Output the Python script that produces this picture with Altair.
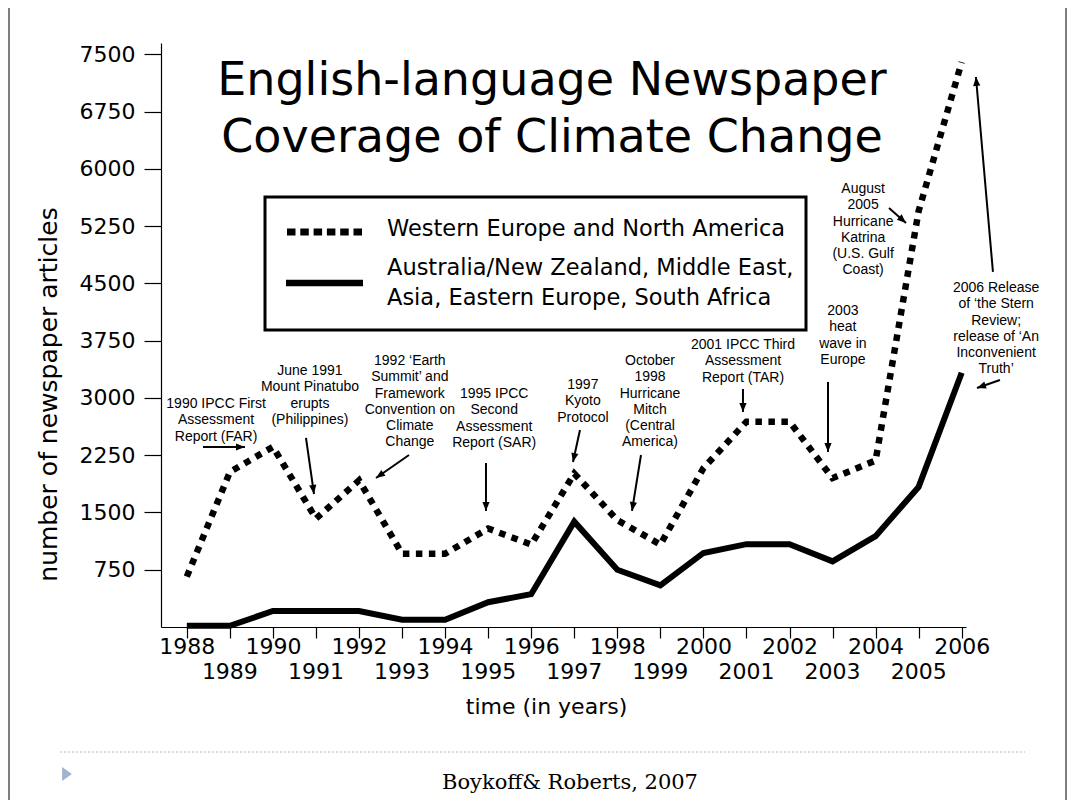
import math
import altair as alt
import pandas as pd

# ---------------- data ----------------
years = list(range(1988, 2007))
western = [660, 2030, 2360, 1420, 1920, 960, 960, 1290, 1080, 2010,
           1400, 1080, 2080, 2690, 2690, 1950, 2180, 5450, 7400]
other = [15, 15, 210, 210, 210, 96, 96, 325, 430, 1380,
         750, 545, 970, 1085, 1085, 860, 1190, 1835, 3330]
y_ticks = [750, 1500, 2250, 3000, 3750, 4500, 5250, 6000, 6750, 7500]
odd_years = [y for y in years if y % 2 == 1]
series_labels = ["Western Europe and North America",
                 "Australia/New Zealand, Middle East,\nAsia, Eastern Europe, South Africa"]

ann_text = [
    "1990 IPCC First\nAssessment\nReport (FAR)",
    "June 1991\nMount Pinatubo\nerupts\n(Philippines)",
    "1992 \u2018Earth\nSummit\u2019 and\nFramework\nConvention on\nClimate\nChange",
    "1995 IPCC\nSecond\nAssessment\nReport (SAR)",
    "1997\nKyoto\nProtocol",
    "October\n1998\nHurricane\nMitch\n(Central\nAmerica)",
    "2001 IPCC Third\nAssessment\nReport (TAR)",
    "2003\nheat\nwave in\nEurope",
    "August\n2005\nHurricane\nKatrina\n(U.S. Gulf\nCoast)",
    "2006 Release\nof \u2018the Stern\nReview;\nrelease of \u2018An\nInconvenient\nTruth\u2019",
]
# position of each annotation's first line (year, articles)
ann_year = [1988.68, 1990.86, 1993.18, 1995.14, 1997.20, 1998.76, 2000.92, 2003.24, 2003.71, 2006.80]
ann_value = [2921, 3354, 3485, 3052, 3170, 3485, 3694, 4140, 5738, 4441]

arrow_year0 = [1988.376, 1990.768, 1993.161, 1994.949, 1997.133, 1998.550, 2000.919, 2002.894, 2004.311, 2006.726, 2006.889]
arrow_val0 = [2358, 2476, 2253, 2148, 2581, 2253, 3118, 3210, 5489, 4651, 3236]
arrow_year1 = [1989.351, 1990.954, 1992.394, 1994.949, 1996.970, 1998.341, 2000.919, 2002.894, 2004.706, 2006.331, 2006.355]
arrow_val1 = [2358, 1742, 1952, 1520, 2162, 1520, 2817, 2293, 5292, 7205, 3131]

# ---------------- layout ----------------
W, H = 805, 584
X_DOM = [1987.4, 2006.1]
Y_DOM = [0, 7650]
PX_YEAR = W / (X_DOM[1] - X_DOM[0])
PX_VAL = H / (Y_DOM[1] - Y_DOM[0])
FONT = "DejaVu Sans"

xscale = alt.Scale(domain=X_DOM, nice=False, zero=False)
yscale = alt.Scale(domain=Y_DOM, nice=False, zero=False)

xaxis = alt.Axis(values=years, labelExpr="datum.value % 2 == 0 ? datum.label : ''",
                 format="d", tickSize=11, labelPadding=8, labelBaseline="middle",
                 labelFont=FONT, labelFontSize=22, labelColor="black",
                 labelOverlap=False, labelFlush=False, grid=False,
                 domainColor="black", tickColor="black", domainWidth=1.2, tickWidth=1.2,
                 title="time (in years)", titleFont=FONT, titleFontSize=22,
                 titleFontWeight="normal", titleColor="black",
                 titleX=385, titleY=79, titleBaseline="middle", titleAlign="center",
                 titleAnchor="start")
yaxis = alt.Axis(values=y_ticks, format="d", tickSize=17, labelPadding=9,
                 labelFont=FONT, labelFontSize=22, labelColor="black",
                 labelOverlap=False, labelFlush=False, grid=False,
                 domainColor="black", tickColor="black", domainWidth=1.2, tickWidth=1.2,
                 title="number of newspaper articles", titleFont=FONT, titleFontSize=25,
                 titleFontWeight="normal", titleColor="black", titleAngle=270,
                 titleX=-113, titleY=351, titleBaseline="middle", titleAlign="center",
                 titleAnchor="start")

df_w = pd.DataFrame({"year": years, "value": western})
df_o = pd.DataFrame({"year": years, "value": other})

west_line = alt.Chart(df_w).mark_line(
    color="black", strokeWidth=6.5, strokeDash=[6.5, 6.5], strokeCap="butt"
).encode(x=alt.X("year:Q", scale=xscale, axis=xaxis),
         y=alt.Y("value:Q", scale=yscale, axis=yaxis))

other_line = alt.Chart(df_o).mark_line(
    color="black", strokeWidth=6, strokeJoin="miter"
).encode(x=alt.X("year:Q", scale=xscale), y=alt.Y("value:Q", scale=yscale))

odd_lab = alt.Chart(pd.DataFrame({"year": odd_years})).mark_text(
    font=FONT, fontSize=22, color="black", baseline="middle", align="center"
).encode(x=alt.X("year:Q", scale=xscale), y=alt.value(629), text=alt.Text("year:Q", format="d"))

# annotations
df_ann = pd.DataFrame({"t": ann_text, "year": ann_year, "value": ann_value})
ann = alt.Chart(df_ann).mark_text(
    font="Liberation Sans", fontSize=14, lineHeight=16.3, lineBreak="\n",
    color="black", align="center", baseline="middle"
).encode(x=alt.X("year:Q", scale=xscale), y=alt.Y("value:Q", scale=yscale), text="t:N")

angles = []
for a, b, c, d in zip(arrow_year0, arrow_val0, arrow_year1, arrow_val1):
    dx = (c - a) * PX_YEAR
    dy = -(d - b) * PX_VAL
    angles.append(math.degrees(math.atan2(dx, -dy)) % 360)
df_arr = pd.DataFrame({"y0": arrow_year0, "v0": arrow_val0, "y1": arrow_year1,
                       "v1": arrow_val1, "ang": angles})
arr_rule = alt.Chart(df_arr).mark_rule(color="black", strokeWidth=2).encode(
    x=alt.X("y0:Q", scale=xscale), y=alt.Y("v0:Q", scale=yscale),
    x2="y1:Q", y2="v1:Q")
arr_head = alt.Chart(df_arr).mark_point(
    shape="M0,0L0.8,2L-0.8,2Z", filled=True, color="black", opacity=1, size=81, strokeWidth=0
).encode(x=alt.X("y1:Q", scale=xscale), y=alt.Y("v1:Q", scale=yscale),
         angle=alt.Angle("ang:Q", scale=None))

one = pd.DataFrame({"k": [0]})

title = alt.Chart(one).mark_text(
    text="English-language Newspaper\nCoverage of  Climate Change", lineBreak="\n",
    font=FONT, fontSize=46, lineHeight=57, color="black", align="center", baseline="middle"
).encode(x=alt.value(391), y=alt.value(38))

# legend box
box = alt.Chart(one).mark_rect(fill="white", fillOpacity=0, stroke="black", strokeWidth=3).encode(
    x=alt.value(104), x2=alt.value(645), y=alt.value(154), y2=alt.value(287))
leg_dot = alt.Chart(one).mark_rule(color="black", strokeWidth=7, strokeDash=[8.5, 4.8], strokeCap="butt").encode(
    x=alt.value(126), x2=alt.value(201), y=alt.value(189))
leg_sol = alt.Chart(one).mark_rule(color="black", strokeWidth=6.5).encode(
    x=alt.value(125), x2=alt.value(202), y=alt.value(240))
leg_t1 = alt.Chart(pd.DataFrame({"t": [series_labels[0]]})).mark_text(
    font=FONT, fontSize=22.5, color="black", align="left", baseline="middle"
).encode(x=alt.value(226), y=alt.value(186), text="t:N")
leg_t2 = alt.Chart(pd.DataFrame({"t": [series_labels[1]]})).mark_text(
    font=FONT, fontSize=22.5, lineHeight=30, lineBreak="\n", color="black", align="left", baseline="middle"
).encode(x=alt.value(226), y=alt.value(225), text="t:N")

# slide decorations
border_l = alt.Chart(one).mark_rule(color="#555555", strokeWidth=1.5).encode(
    x=alt.value(-152), y=alt.value(-35), y2=alt.value(757))
border_r = alt.Chart(one).mark_rule(color="#555555", strokeWidth=1.5).encode(
    x=alt.value(905), y=alt.value(-35), y2=alt.value(757))
sep = alt.Chart(one).mark_rule(color="#A8BBD0", strokeWidth=1, strokeDash=[2, 2]).encode(
    x=alt.value(-101), x2=alt.value(864), y=alt.value(709))
tri = alt.Chart(one).mark_point(shape="M-0.7,-1L0.7,0L-0.7,1Z", filled=True, color="#9FB4CE",
                                 opacity=1, size=196, strokeWidth=0).encode(
    x=alt.value(-94), y=alt.value(731))
cite = alt.Chart(one).mark_text(text="Boykoff& Roberts, 2007", font="DejaVu Serif", fontSize=21,
                                 color="black", align="center", baseline="middle").encode(
    x=alt.value(409), y=alt.value(740))

chart = alt.layer(
    west_line, other_line, odd_lab, ann, arr_rule, arr_head, title,
    box, leg_dot, leg_sol, leg_t1, leg_t2,
    border_l, border_r, sep, tri, cite
).properties(
    width=W, height=H, background="white",
    autosize=alt.AutoSizeParams(type="none"),
    padding={"left": 153, "top": 35, "right": 101, "bottom": 173},
).configure_view(stroke=None, strokeWidth=0)

chart.save("out.html", embed_options={"renderer": "svg", "actions": False})
